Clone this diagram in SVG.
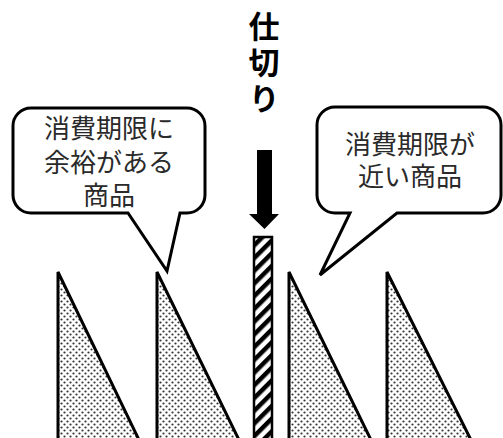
<svg xmlns="http://www.w3.org/2000/svg" width="503" height="438" viewBox="0 0 503 438">
<style>
.bubble{fill:#fff;stroke:#000;stroke-width:3;stroke-linejoin:miter}
.btxt{font-family:"Liberation Sans","Noto Sans CJK JP",sans-serif;font-size:26px;fill:#2a2a2a;text-anchor:middle}
.title{font-family:"Noto Sans CJK JP","Noto Sans",sans-serif;font-size:31px;font-weight:bold;fill:#000;writing-mode:vertical-rl;letter-spacing:5px}
.tri{fill:url(#dots);stroke:#000;stroke-width:3;stroke-linejoin:miter}
</style>
<defs>
<pattern id="dots" width="6" height="6" patternUnits="userSpaceOnUse">
<rect width="6" height="6" fill="#fff"/>
<circle cx="1.5" cy="1.5" r="1.1" fill="#333"/>
<circle cx="4.5" cy="4.5" r="1.1" fill="#333"/>
</pattern>
<pattern id="stripes" width="9" height="9" patternUnits="userSpaceOnUse" patternTransform="rotate(45)">
<rect width="9" height="9" fill="#fff"/>
<rect x="0" y="0" width="4.5" height="9" fill="#000"/>
</pattern>
</defs>
<g id="title">
<text class="title" x="264" y="11">仕切り</text>
</g>
<g id="connectors">
<path d="M257,150 H272 V214 H279 L264.5,229 L249,214 H257 Z" fill="#000"/>
</g>
<g id="partition">
<rect x="254" y="237" width="18" height="205" fill="url(#stripes)" stroke="#000" stroke-width="2.5"/>
</g>
<g id="bubble-left">
<path class="bubble" d="M31,108 H187 A18,18 0 0 1 205,126 V195 A18,18 0 0 1 187,213 H180 L167,271 L128,213 H31 A18,18 0 0 1 13,195 V126 A18,18 0 0 1 31,108 Z"/>
<text class="btxt"><tspan x="109" y="138">消費期限に</tspan><tspan x="109" y="172">余裕がある</tspan><tspan x="109" y="205">商品</tspan></text>
</g>
<g id="bubble-right">
<path class="bubble" d="M335,107 H483 A18,18 0 0 1 501,125 V195 A18,18 0 0 1 483,213 H397 L320,275 L350,213 H335 A18,18 0 0 1 317,195 V125 A18,18 0 0 1 335,107 Z"/>
<text class="btxt"><tspan x="410" y="154">消費期限が</tspan><tspan x="410" y="186">近い商品</tspan></text>
</g>
<g id="item1"><path class="tri" d="M58,272 L58,442 L140,442 Z"/></g>
<g id="item2"><path class="tri" d="M157,272 L157,442 L240,442 Z"/></g>
<g id="item3"><path class="tri" d="M289,272 L289,442 L372,442 Z"/></g>
<g id="item4"><path class="tri" d="M387,272 L387,442 L472,442 Z"/></g>
</svg>
